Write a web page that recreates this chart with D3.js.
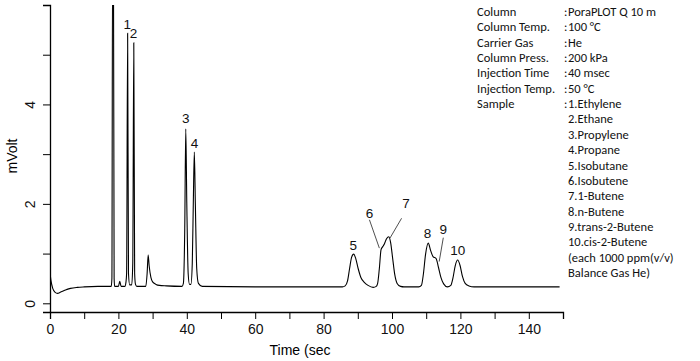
<!DOCTYPE html>
<html lang="en">
<head>
    <meta charset="UTF-8">
    <title>chromatogram</title>
    <script type="text/javascript" src="https://d3js.org/d3.v7.min.js"></script>
    <style>
        body { margin: 0; background: #fff; }
    </style>
</head>
<body>
<svg class="chrom"></svg>

<script type="text/javascript">

    const width = 700;
    const height = 361;

    // trace: [time (sec), mVolt]
    const trace = [
        [0, 0.62], [0.3, 0.45], [0.8, 0.3], [1.5, 0.22], [2.2, 0.2], [3, 0.22], [4, 0.25],
        [5, 0.28], [6, 0.3], [8, 0.32], [10, 0.33], [14, 0.34], [17.9, 0.34],
        [18.1, 0.5], [18.3, 7], [18.55, 7], [18.75, 0.5], [18.9, 0.34],
        [20.0, 0.34], [20.4, 0.44], [20.8, 0.34],
        [21.9, 0.34], [22.2, 0.42], [22.4, 0.6], [22.7, 5.43], [22.95, 0.6], [23.3, 0.37],
        [23.9, 0.37], [24.2, 0.8], [24.5, 5.24], [24.75, 0.6], [25.0, 0.38], [25.4, 0.34],
        [28.0, 0.34], [28.4, 0.6], [28.7, 0.97], [29.0, 0.75], [29.5, 0.52], [30, 0.43],
        [31, 0.38], [32, 0.36], [34, 0.35], [38.6, 0.34],
        [39.0, 0.4], [39.4, 1.5], [39.7, 3.51], [40.0, 2.0], [40.4, 0.6], [40.8, 0.38], [41.2, 0.38],
        [41.6, 0.8], [41.9, 2.0], [42.2, 3.04], [42.5, 2.0], [42.9, 0.7], [43.4, 0.4], [44.5, 0.34],
        [60, 0.33], [85.5, 0.33],
        [86.3, 0.35], [87.0, 0.45], [87.6, 0.7], [88.2, 0.93], [88.8, 0.99], [89.4, 0.9],
        [90.1, 0.7], [90.9, 0.52], [91.9, 0.42], [93, 0.36], [94.5, 0.32], [95.4, 0.34],
        [95.8, 0.4], [96.3, 0.7], [96.8, 1.08], [97.3, 1.14], [97.8, 1.2], [98.4, 1.3],
        [99.1, 1.34], [99.6, 1.22], [100.2, 0.9], [100.8, 0.58], [101.5, 0.4], [102.5, 0.34],
        [103.5, 0.33], [107.8, 0.33],
        [108.6, 0.36], [109.2, 0.6], [109.8, 0.98], [110.6, 1.21], [111.3, 1.06], [112.0, 0.94],
        [112.9, 0.9], [113.6, 0.72], [114.3, 0.52], [115.1, 0.39], [116.2, 0.33], [117.2, 0.36],
        [117.8, 0.5], [118.5, 0.76], [119.2, 0.87], [119.9, 0.76], [120.6, 0.54], [121.4, 0.4],
        [122.5, 0.35], [124, 0.33], [149, 0.33]
    ];

    // peak numbers, anchored at [time, mVolt]
    const peakNames = ["1", "2", "3", "4", "5", "6", "7", "8", "9", "10"];
    const peakLabelT = [22.6, 24.4, 39.7, 42.25, 88.7, 93.4, 104.1, 110.4, 115.0, 119.2];
    const peakLabelV = [5.62, 5.44, 3.73, 3.23, 1.17, 1.82, 2.02, 1.41, 1.49, 1.07];

    // leader lines [t1, v1, t2, v2]
    const leaders = [
        [93.4, 1.68, 96.3, 1.11],
        [102.8, 1.71, 99.4, 1.31],
        [115.0, 1.32, 113.8, 0.84]
    ];

    const xTicks = d3.range(0, 151, 10);
    const xLabels = [0, 20, 40, 60, 80, 100, 120, 140];
    const yTicks = [0, 1, 2, 3, 4, 5, 6];
    const yLabels = [0, 2, 4];

    const infoKeys = ["Column", "Column Temp.", "Carrier Gas", "Column Press.", "Injection Time",
        "Injection Temp.", "Sample", "", "", "", "", "", "", "", "", "", "", ""];
    const infoValues = ["PoraPLOT Q 10 m", "100 \u00b0C", "He", "200 kPa", "40 msec", "50 \u00b0C",
        "1.Ethylene", "2.Ethane", "3.Propylene", "4.Propane", "5.Isobutane", "6.Isobutene",
        "7.1-Butene", "8.n-Butene", "9.trans-2-Butene", "10.cis-2-Butene",
        "(each 1000 ppm(v/v)", "Balance Gas He)"];

    const narrow = "'Liberation Sans Narrow', 'Liberation Sans', sans-serif";

    let svg = d3.select(".chrom")
        .attr("width", width)
        .attr("height", height)
        .style("font-family", "'Liberation Sans', Arial, sans-serif");

    let scaleX = d3.scaleLinear()
        .domain([0, 150])
        .range([50, 563]);

    let scaleY = d3.scaleLinear()
        .domain([-0.175, 6.0])
        .range([312, 5]);

    svg.append("clipPath").attr("id", "plotclip")
        .append("rect")
        .attr("x", 50).attr("y", 5)
        .attr("width", 520).attr("height", 307);

    // axes
    let xAxis = svg.append("g")
        .attr("transform", "translate(0,312)")
        .call(d3.axisBottom(scaleX).tickValues(xTicks).tickSizeOuter(0).tickSize(7)
            .tickFormat(d => xLabels.includes(d) ? d : ""));
    xAxis.select(".domain").attr("stroke-width", 1.3);
    xAxis.selectAll("text")
        .attr("font-size", 14)
        .attr("font-family", narrow)
        .attr("y", 9)
        .attr("dy", "0.9em")
        .attr("fill", "#111");

    let yAxis = svg.append("g")
        .attr("transform", "translate(50,0)")
        .call(d3.axisLeft(scaleY).tickValues(yTicks).tickSizeOuter(0).tickSize(7)
            .tickFormat(d => yLabels.includes(d) ? d : ""));
    yAxis.select(".domain").attr("stroke-width", 1.3);
    yAxis.selectAll("text")
        .attr("font-size", 14)
        .attr("font-family", narrow)
        .attr("text-anchor", "middle")
        .attr("x", 0).attr("y", 0).attr("dy", 0)
        .attr("transform", "translate(-15,0) rotate(-90)")
        .attr("fill", "#111");

    svg.append("text")
        .attr("x", 300).attr("y", 355)
        .attr("text-anchor", "middle")
        .attr("font-size", 14)
        .attr("font-family", narrow)
        .text("Time (sec");

    svg.append("text")
        .attr("transform", "translate(17,156) rotate(-90)")
        .attr("text-anchor", "middle")
        .attr("font-size", 14)
        .attr("font-family", narrow)
        .text("mVolt");

    // the trace
    let line = d3.line()
        .x(d => scaleX(d[0]))
        .y(d => scaleY(d[1]))
        .curve(d3.curveMonotoneX);

    svg.append("path")
        .datum(trace)
        .attr("clip-path", "url(#plotclip)")
        .attr("d", line)
        .attr("fill", "none")
        .attr("stroke", "#000")
        .attr("stroke-width", 1.1);

    // peak labels
    svg.selectAll(".plabel").data(peakNames).enter().append("text")
        .attr("class", "plabel")
        .attr("x", (d, i) => scaleX(peakLabelT[i]))
        .attr("y", (d, i) => scaleY(peakLabelV[i]) + 5)
        .attr("text-anchor", "middle")
        .attr("font-size", 13.5)
        .attr("font-family", narrow)
        .attr("fill", "#111")
        .text(d => d);

    svg.selectAll(".leader").data(leaders).enter().append("line")
        .attr("class", "leader")
        .attr("x1", d => scaleX(d[0]))
        .attr("y1", d => scaleY(d[1]))
        .attr("x2", d => scaleX(d[2]))
        .attr("y2", d => scaleY(d[3]))
        .attr("stroke", "#222")
        .attr("stroke-width", 0.8);

    // conditions block
    let info = svg.append("g")
        .style("font-family", "Carlito, Lato, sans-serif")
        .attr("font-size", 12.5)
        .attr("fill", "#111");

    info.selectAll(".ikey").data(infoKeys).enter().append("text")
        .attr("x", 477)
        .attr("y", (d, i) => 16 + i * 15.35)
        .text(d => d);

    info.selectAll(".icolon").data(infoKeys.filter(k => k !== "")).enter().append("text")
        .attr("x", 564)
        .attr("y", (d, i) => 16 + i * 15.35)
        .text(":");

    info.selectAll(".ival").data(infoValues).enter().append("text")
        .attr("x", 568)
        .attr("y", (d, i) => 16 + i * 15.35)
        .text(d => d);

</script>

</body>
</html>
